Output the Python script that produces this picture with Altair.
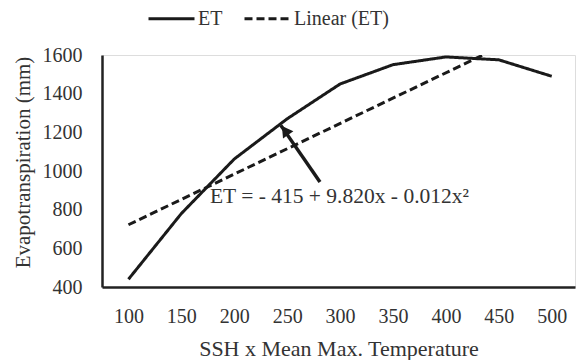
import altair as alt
import pandas as pd

# ---- data ----
x_vals = [100, 150, 200, 250, 300, 350, 400, 450, 500]
et_vals = [440, 780, 1062, 1270, 1450, 1550, 1590, 1575, 1490]
trend_x = [100, 500]
trend_y = [722, 1770]
series_names = ["ET", "Linear (ET)"]
x_ticks = [100, 150, 200, 250, 300, 350, 400, 450, 500]
y_ticks = [400, 600, 800, 1000, 1200, 1400, 1600]
equation = "ET = - 415 + 9.820x - 0.012x\u00b2"
eq_pos = [177, 834]
arrow_tail = [281, 943]
arrow_tip = [244, 1236]
arrow_head = [248, 1210]

FONT = "Liberation Serif"
TXT = "#333333"
INK = "#1a1a1a"

et_df = pd.DataFrame({"x": x_vals, "y": et_vals, "series": [series_names[0]] * len(x_vals)})
tr_df = pd.DataFrame({"x": trend_x, "y": trend_y, "series": [series_names[1]] * len(trend_x)})
eq_df = pd.DataFrame({"x": [eq_pos[0]], "y": [eq_pos[1]], "label": [equation]})
arr_df = pd.DataFrame({"x": [arrow_tail[0]], "y": [arrow_tail[1]],
                       "x2": [arrow_tip[0]], "y2": [arrow_tip[1]]})
head_df = pd.DataFrame({"x": [arrow_head[0]], "y": [arrow_head[1]]})

xscale = alt.Scale(domain=[75, 522], nice=False, zero=False)
yscale = alt.Scale(domain=[400, 1600], nice=False, zero=False)

xaxis = alt.Axis(values=x_ticks, grid=False, ticks=False, tickSize=0, format="d",
                 labelOverlap=False, labelFlush=False,
                 domainColor="#222222", domainWidth=2.5,
                 labelFont=FONT, labelFontSize=20, labelColor=TXT,
                 labelPadding=35, labelBaseline="alphabetic",
                 title="SSH x Mean Max. Temperature", titleFont=FONT, titleFontSize=22,
                 titleColor=TXT, titleFontWeight="normal", titleBaseline="alphabetic",
                 titleY=68)
yaxis = alt.Axis(values=y_ticks, grid=False, ticks=False, tickSize=0, format="d",
                 labelOverlap=False, labelFlush=False,
                 domainColor="#222222", domainWidth=2.5,
                 labelFont=FONT, labelFontSize=20, labelColor=TXT, labelPadding=20,
                 title="Evapotranspiration (mm)", titleFont=FONT, titleFontSize=21,
                 titleColor=TXT, titleFontWeight="normal", titleBaseline="alphabetic",
                 titleAngle=270, titleAlign="center", titleX=-73, titleY=107)

dash = alt.StrokeDash(
    "series:N",
    scale=alt.Scale(domain=series_names, range=[[1, 0], [8, 4]]),
    legend=alt.Legend(orient="none", legendX=45, legendY=-61, direction="horizontal",
                      title=None, symbolType="stroke", symbolSize=2116,
                      symbolStrokeWidth=3, symbolStrokeColor=INK,
                      labelFont=FONT, labelFontSize=20, labelColor=TXT,
                      labelOffset=2, columnPadding=15, padding=0),
)

X = alt.X("x:Q", scale=xscale, axis=xaxis)
Y = alt.Y("y:Q", scale=yscale, axis=yaxis)

trend_line = alt.Chart(tr_df).mark_line(color=INK, strokeWidth=3, clip=True).encode(
    x=X, y=Y, strokeDash=dash,
)
et_line = alt.Chart(et_df).mark_line(color=INK, strokeWidth=3).encode(
    x=X, y=Y, strokeDash=dash,
)
arrow = alt.Chart(arr_df).mark_rule(color=INK, strokeWidth=3.5).encode(
    x=X, y=Y, x2="x2:Q", y2="y2:Q"
)
head = alt.Chart(head_df).mark_point(shape="triangle-up", filled=True, color=INK,
                                     size=160, angle=325, opacity=1).encode(
    x=X, y=Y
)
eq_text = alt.Chart(eq_df).mark_text(font=FONT, fontSize=21.5, color=TXT, align="left",
                                     baseline="alphabetic").encode(
    x=X, y=Y, text="label:N"
)

chart = alt.layer(trend_line, et_line, arrow, head, eq_text).properties(
    width=473, height=232,
    autosize=alt.AutoSizeParams(type="none"),
    padding={"left": 102, "top": 55, "right": 1, "bottom": 73},
).configure_view(stroke=None).configure(background="white", font=FONT)

chart.save("out.html", embed_options={"renderer": "svg", "actions": False})
